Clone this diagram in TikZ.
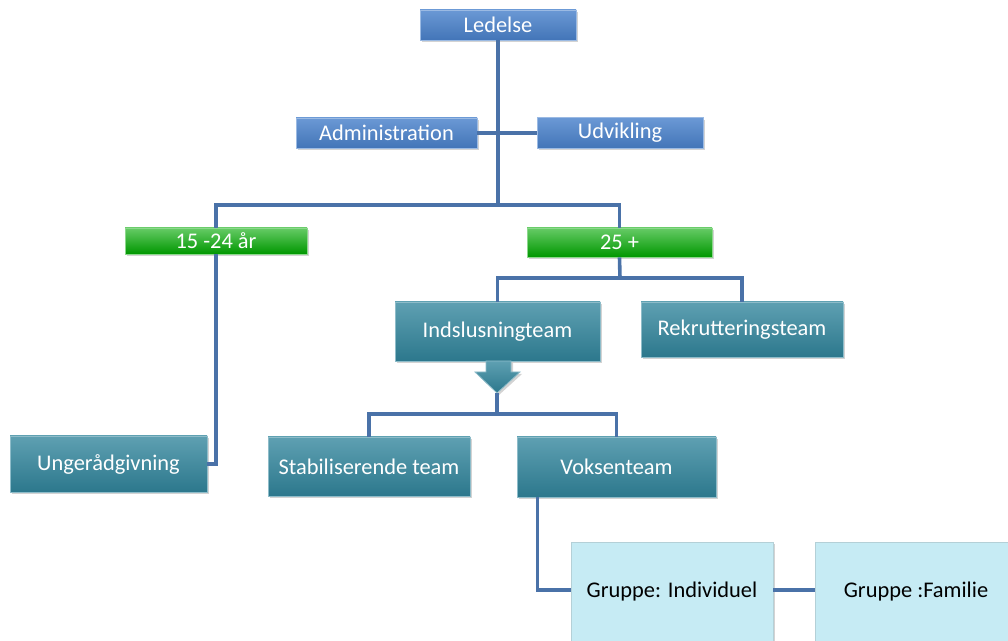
\documentclass[tikz,border=0pt]{standalone}
\usepackage{fontspec}
\setmainfont{Carlito}
\usetikzlibrary{shadows}

\definecolor{orgblue}{HTML}{4A82CC}
\definecolor{orggreen}{HTML}{00A800}
\definecolor{orgteal}{HTML}{31859C}
\definecolor{orglight}{HTML}{C6EBF4}
\definecolor{orgline}{HTML}{4A72A8}

\tikzset{
  unit/.style={rectangle, inner sep=0pt, font=\fontsize{16.8}{19}\selectfont,
    drop shadow={shadow xshift=1.5pt, shadow yshift=-1.5pt, opacity=0.35}},
  bluebox/.style={unit, text=white, draw=orgblue!55!white, line width=0.7pt,
    top color=orgblue!82!white, bottom color=orgblue!90!black},
  greenbox/.style={unit, text=white, draw=orggreen!45!white, line width=0.7pt,
    top color=orggreen!60!white, bottom color=orggreen!90!black},
  tealbox/.style={unit, text=white, draw=orgteal!55!white, line width=0.7pt,
    top color=orgteal!78!white, bottom color=orgteal!90!black},
  lightbox/.style={unit, text=black, draw=orglight!75!gray, line width=0.6pt,
    fill=orglight, text depth=12pt},
  conn/.style={draw=orgline, line width=2.7pt}
}

\begin{document}
\begin{tikzpicture}[x=0.75pt, y=-0.75pt]
    \useasboundingbox (0,0) rectangle (1008,641);

    \node [bluebox, minimum width=117pt, minimum height=22.5pt] (led) at (498,25) {Ledelse};
    \node [bluebox, minimum width=135.75pt, minimum height=22.5pt] (adm) at (386.5,133) {Administration};
    \node [bluebox, minimum width=124.5pt, minimum height=23pt] (udv) at (620,133) {Udvikling};

    \node [greenbox, minimum width=136.5pt, minimum height=19.5pt] (yng) at (216,241) {15 -24 år};
    \node [greenbox, minimum width=138.75pt, minimum height=21.75pt] (old) at (619.5,242.5) {25 +};

    \node [tealbox, minimum width=153.75pt, minimum height=44.25pt] (ind) at (497.5,331.5) {Indslusningteam};
    \node [tealbox, minimum width=151.5pt, minimum height=41.25pt] (rek) at (742,329.5) {Rekrutteringsteam};
    \node [tealbox, minimum width=147.75pt, minimum height=42pt] (ung) at (108.5,464) {Ungerådgivning};
    \node [tealbox, minimum width=151.5pt, minimum height=44.25pt] (stab) at (369,466.5) {Stabiliserende team};
    \node [tealbox, minimum width=149.25pt, minimum height=45pt] (voks) at (616.5,467) {Voksenteam};

    \node [lightbox, minimum width=151.5pt, minimum height=84pt] (indiv) at (672,598) {Gruppe: Individuel};
    \node [lightbox, minimum width=151.5pt, minimum height=84pt] (fam) at (916,598) {Gruppe :Familie};

    \draw [draw=orgteal!55!white, line width=0.6pt, top color=orgteal!78!white, bottom color=orgteal!90!black,
        drop shadow={shadow xshift=1.5pt, shadow yshift=-1.5pt, opacity=0.35}]
        (486,361) -- (486,372) -- (475,372) -- (497,393) -- (520,372) -- (511,372) -- (511,361) -- cycle;
    \coordinate (tip) at (497,393);

    \coordinate (j1) at (498,205);
    \coordinate (j2) at (620,278);
    \coordinate (j3) at (497,414);

    \draw [conn] (led.south) -- (j1);
    \draw [conn] (adm.east) -- (udv.west);
    \draw [conn] (yng.north) |- (j1) -| (old.north);
    \draw [conn] (yng.south) |- (ung.east);
    \draw [conn] (old.south) -- (j2);
    \draw [conn] (ind.north) |- (j2) -| (rek.north);
    \draw [conn] (tip) -- (j3);
    \draw [conn] (stab.north) |- (j3) -| (voks.north);
    \draw [conn] ([xshift=15.75pt]voks.south west) |- ([yshift=6pt]indiv.west);
    \draw [conn] ([yshift=6pt]indiv.east) -- ([yshift=6pt]fam.west);
\end{tikzpicture}
\end{document}
